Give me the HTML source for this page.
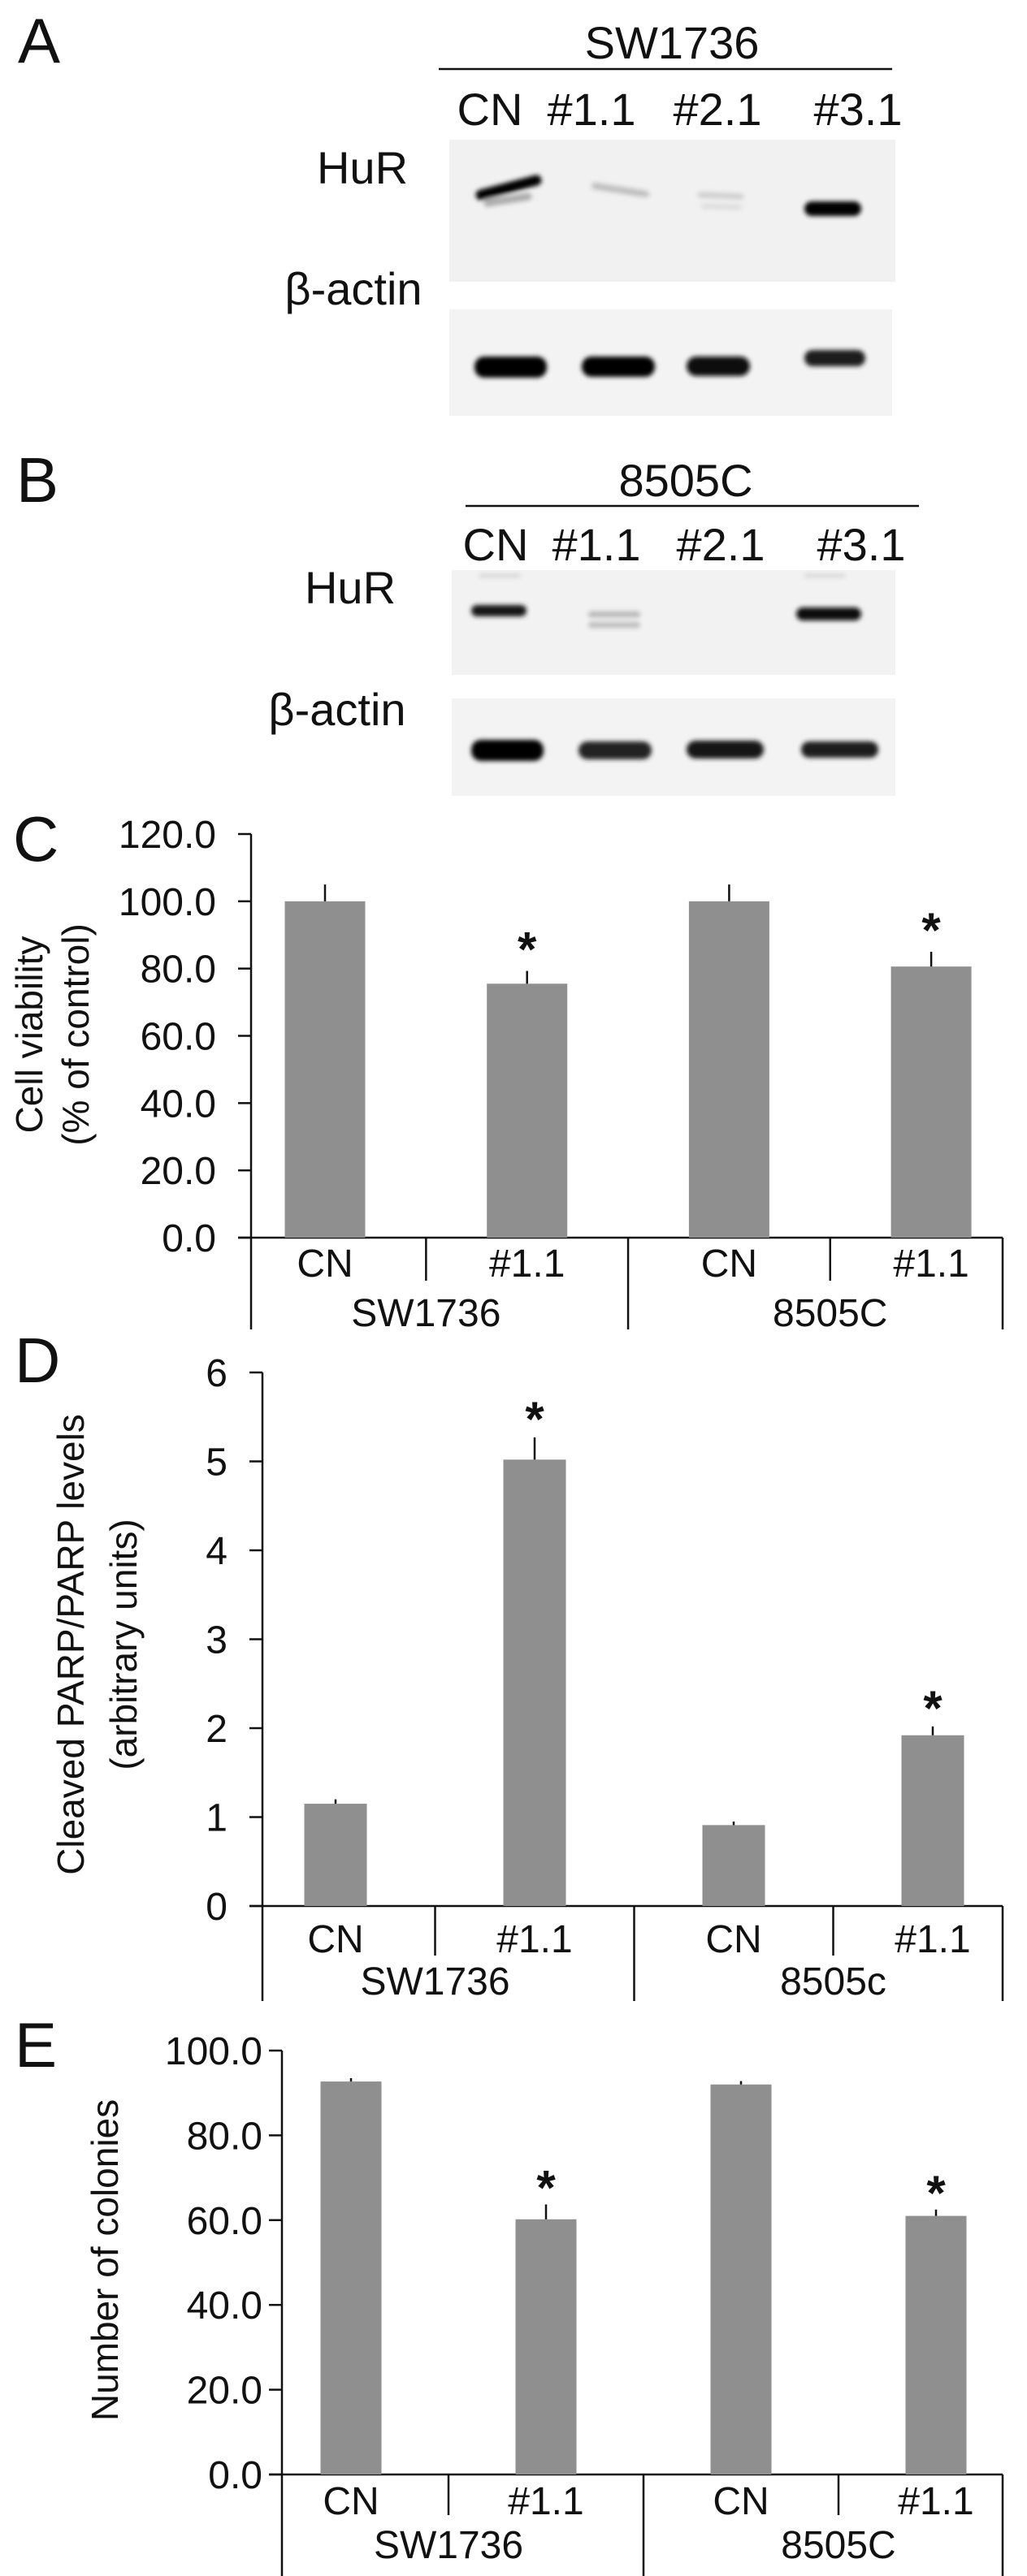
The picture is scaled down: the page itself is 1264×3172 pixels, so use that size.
<!DOCTYPE html>
<html><head><meta charset="utf-8">
<style>
html,body{margin:0;padding:0;background:#fff;}
svg{display:block;font-family:"Liberation Sans",Arial,sans-serif;}
</style></head>
<body>
<svg id="fig" width="1264" height="3172" viewBox="0 0 1264 3172" xmlns="http://www.w3.org/2000/svg">
<defs>
<filter id="blur2" x="-30%" y="-100%" width="160%" height="300%"><feGaussianBlur stdDeviation="3"/></filter>
</defs>

<!-- Panel A -->
<g>
<text x="22" y="77" font-size="78" fill="#111">A</text>
<text x="827" y="72" font-size="56" text-anchor="middle" fill="#111">SW1736</text>
<line x1="540" y1="85" x2="1098" y2="85" stroke="#111" stroke-width="2.5"/>
<g font-size="56" text-anchor="middle" fill="#111">
<text x="603" y="154">CN</text><text x="728" y="154">#1.1</text><text x="883" y="154">#2.1</text><text x="1056" y="154">#3.1</text>
</g>
<text x="446" y="226" font-size="56" text-anchor="middle" fill="#111">HuR</text>
<text x="435" y="375" font-size="56" text-anchor="middle" fill="#111">β-actin</text>
<rect x="553" y="172" width="549" height="175" fill="#f1f1f1"/>
<rect x="553" y="381" width="545" height="131" fill="#f3f3f3"/>
<g filter="url(#blur2)">
<path d="M592 240 L660 222" stroke="#000" stroke-width="13" stroke-linecap="round"/>
<path d="M600 250 L650 242" stroke="#aaa" stroke-width="9" stroke-linecap="round"/>
<path d="M732 229 L795 239" stroke="#bdbdbd" stroke-width="8" stroke-linecap="round"/>
<path d="M862 240 L912 242" stroke="#cdcdcd" stroke-width="7" stroke-linecap="round"/>
<path d="M866 254 L910 255" stroke="#dadada" stroke-width="6" stroke-linecap="round"/>
<rect x="990" y="248" width="70" height="18" rx="9" fill="#050505"/>
</g>
<g filter="url(#blur2)">
<rect x="584" y="439" width="89" height="26" rx="12" fill="#050505"/>
<rect x="716" y="439" width="90" height="25" rx="12" fill="#050505"/>
<rect x="845" y="439" width="78" height="24" rx="12" fill="#080808"/>
<rect x="990" y="431" width="75" height="20" rx="10" fill="#1a1a1a"/>
</g>
</g>

<!-- Panel B -->
<g>
<text x="20" y="618" font-size="78" fill="#111">B</text>
<text x="844" y="611" font-size="56" text-anchor="middle" fill="#111">8505C</text>
<line x1="573" y1="623" x2="1131" y2="623" stroke="#111" stroke-width="2.5"/>
<g font-size="56" text-anchor="middle" fill="#111">
<text x="610" y="690">CN</text><text x="734" y="690">#1.1</text><text x="887" y="690">#2.1</text><text x="1060" y="690">#3.1</text>
</g>
<text x="431" y="743" font-size="56" text-anchor="middle" fill="#111">HuR</text>
<text x="415" y="893" font-size="56" text-anchor="middle" fill="#111">β-actin</text>
<rect x="556" y="702" width="546" height="129" fill="#f2f2f2"/>
<rect x="556" y="860" width="546" height="120" fill="#f3f3f3"/>
<g filter="url(#blur2)">
<rect x="580" y="745" width="68" height="14" rx="7" fill="#151515"/>
<rect x="724" y="753" width="64" height="7" rx="3" fill="#b5b5b5"/>
<rect x="724" y="766" width="64" height="7" rx="3" fill="#bcbcbc"/>
<rect x="980" y="748" width="80" height="16" rx="8" fill="#0a0a0a"/>
<rect x="590" y="707" width="50" height="4" fill="#cfcfcf"/>
<rect x="990" y="707" width="50" height="4" fill="#d2d2d2"/>
</g>
<g filter="url(#blur2)">
<rect x="580" y="911" width="89" height="26" rx="12" fill="#060606"/>
<rect x="712" y="913" width="90" height="22" rx="11" fill="#202020"/>
<rect x="845" y="912" width="95" height="22" rx="11" fill="#151515"/>
<rect x="986" y="913" width="95" height="20" rx="10" fill="#1a1a1a"/>
</g>
</g>

<g id="charts"></g>
</svg>

<script>
// ---- Chart C data ----
var cCategories = ["CN", "#1.1", "CN", "#1.1"];
var cGroups = ["SW1736", "8505C"];
var cValues = [100.0, 75.5, 100.0, 80.6];
var cErrors = [5.0, 3.8, 5.0, 4.4];
var cStars = [false, true, false, true];
var cTicks = [0, 20, 40, 60, 80, 100, 120];
var cTickLabels = ["0.0", "20.0", "40.0", "60.0", "80.0", "100.0", "120.0"];

// ---- Chart D data ----
var dCategories = ["CN", "#1.1", "CN", "#1.1"];
var dGroups = ["SW1736", "8505c"];
var dValues = [1.15, 5.02, 0.91, 1.92];
var dErrors = [0.05, 0.25, 0.04, 0.10];
var dStars = [false, true, false, true];
var dTicks = [0, 1, 2, 3, 4, 5, 6];
var dTickLabels = ["0", "1", "2", "3", "4", "5", "6"];

// ---- Chart E data ----
var eCategories = ["CN", "#1.1", "CN", "#1.1"];
var eGroups = ["SW1736", "8505C"];
var eValues = [92.7, 60.2, 92.0, 61.0];
var eErrors = [0.8, 3.5, 0.8, 1.5];
var eStars = [false, true, false, true];
var eTicks = [0, 20, 40, 60, 80, 100];
var eTickLabels = ["0.0", "20.0", "40.0", "60.0", "80.0", "100.0"];

var NS = "http://www.w3.org/2000/svg";
var root = document.getElementById("charts");
function mk(tag, attrs, parent) {
  var el = document.createElementNS(NS, tag);
  for (var k in attrs) el.setAttribute(k, attrs[k]);
  (parent || root).appendChild(el);
  return el;
}

function drawChart(o) {
  var g = mk("g", {});
  
  
  var ymax = o.ticks[o.ticks.length - 1];
  function yScale(v) { return o.y0 - (v / ymax) * (o.y0 - o.yTop); }
  function xCenter(i) { return o.firstCenter + i * o.step; }
  var col = "#111";
  var pl = mk("text", {x: o.letterX, y: o.letterY, "font-size": 78, fill: col}, g);
  pl.textContent = o.letter;
  
  
  var ya = mk("line", {x1: o.axisX, y1: o.yTop, x2: o.axisX, y2: o.frameBottom, stroke: col, "stroke-width": 2.5}, g);
  
  
  for (var t = 0; t < o.ticks.length; t++) {
    var ty = yScale(o.ticks[t]);
    var tl = mk("line", {x1: o.axisX - 16, y1: ty, x2: o.axisX, y2: ty, stroke: col, "stroke-width": 2.5}, g);
    
    
    var tt = mk("text", {x: o.tickRight, y: ty + 17, "font-size": 48, "text-anchor": "end", fill: col}, g);
    tt.textContent = o.tickLabels[t];
    
    
  }
  var xa = mk("line", {x1: o.axisX - 16, y1: o.y0, x2: o.right, y2: o.y0, stroke: col, "stroke-width": 2.5}, g);
  
  
  var rf = mk("line", {x1: o.right, y1: o.y0, x2: o.right, y2: o.frameBottom, stroke: col, "stroke-width": 2.5}, g);
  
  
  for (var d = 1; d < o.categories.length; d++) {
    var dx = xCenter(d) - o.step / 2;
    var isGroup = (d % 2 === 0);
    var dl = mk("line", {x1: dx, y1: o.y0, x2: dx, y2: isGroup ? o.frameBottom : o.catDivBottom, stroke: col, "stroke-width": 2.5}, g);
    
    
  }
  for (var i = 0; i < o.values.length; i++) {
    var cx = xCenter(i);
    var top = yScale(o.values[i]);
    var b = mk("rect", {x: cx - o.barW / 2, y: top, width: o.barW, height: o.y0 - top, fill: "#8f8f8f"}, g);
    
    
    var et = yScale(o.values[i] + o.errors[i]);
    var eb = mk("line", {x1: cx, y1: top, x2: cx, y2: et, stroke: col, "stroke-width": 2.5}, g);
    
    
    if (o.stars[i]) {
      var st = mk("text", {x: cx, y: et - o.starGap, "font-size": 60, "font-weight": "bold", "text-anchor": "middle", fill: col}, g);
      st.textContent = "*";
      
      
    }
    var cl = mk("text", {x: cx, y: o.catY, "font-size": 48, "text-anchor": "middle", fill: col}, g);
    cl.textContent = o.categories[i];
    
    
  }
  for (var k = 0; k < o.groups.length; k++) {
    var gx = (xCenter(2 * k) + xCenter(2 * k + 1)) / 2;
    var gl = mk("text", {x: gx, y: o.groupY, "font-size": 48, "text-anchor": "middle", fill: col}, g);
    gl.textContent = o.groups[k];
    
    
  }
  for (var L = 0; L < o.titleLines.length; L++) {
    var tx = o.titleX[L];
    var yt = mk("text", {x: tx, y: o.titleCY, "font-size": 46, "text-anchor": "middle", fill: col,
      transform: "rotate(-90 " + tx + " " + o.titleCY + ")", dy: 16}, g);
    yt.textContent = o.titleLines[L];
    
    
  }
}

drawChart({name: "chart-c-cell-viability", letter: "C", letterX: 16, letterY: 1060,
  categories: cCategories, groups: cGroups, values: cValues, errors: cErrors, stars: cStars,
  ticks: cTicks, tickLabels: cTickLabels,
  axisX: 309, yTop: 1027, y0: 1524, right: 1234, frameBottom: 1637, catDivBottom: 1577,
  firstCenter: 400, step: 248.7, barW: 99, tickRight: 266, catY: 1572, groupY: 1633, starGap: 6,
  titleLines: ["Cell viability", "(% of control)"], titleX: [36, 93], titleCY: 1274});

drawChart({name: "chart-d-cleaved-parp", letter: "D", letterX: 18, letterY: 1702,
  categories: dCategories, groups: dGroups, values: dValues, errors: dErrors, stars: dStars,
  ticks: dTicks, tickLabels: dTickLabels,
  axisX: 323, yTop: 1690, y0: 2347, right: 1234, frameBottom: 2464, catDivBottom: 2408,
  firstCenter: 413, step: 245, barW: 77, tickRight: 280, catY: 2404, groupY: 2456, starGap: 2,
  titleLines: ["Cleaved PARP/PARP levels", "(arbitrary  units)"], titleX: [87, 152], titleCY: 2025});

drawChart({name: "chart-e-colonies", letter: "E", letterX: 18, letterY: 2545,
  categories: eCategories, groups: eGroups, values: eValues, errors: eErrors, stars: eStars,
  ticks: eTicks, tickLabels: eTickLabels,
  axisX: 347, yTop: 2525, y0: 3047, right: 1234, frameBottom: 3172, catDivBottom: 3097,
  firstCenter: 432, step: 240, barW: 75, tickRight: 323, catY: 3096, groupY: 3150, starGap: 0,
  titleLines: ["Number of colonies"], titleX: [129], titleCY: 2783});
</script>
</body></html>
